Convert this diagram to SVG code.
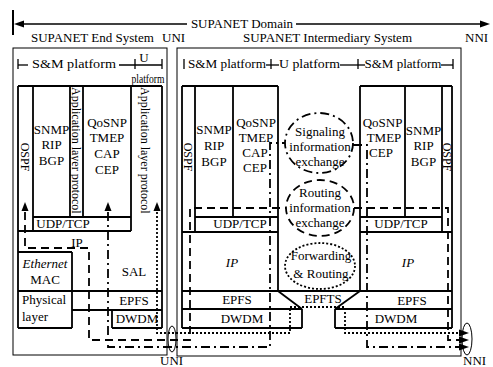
<svg xmlns="http://www.w3.org/2000/svg" width="493" height="367" viewBox="0 0 493 367">
<style>
.t{font-family:"Liberation Serif","Times New Roman",serif;font-size:13px;fill:#000}
.m{text-anchor:middle}
.i{font-style:italic}
.o{fill:none;stroke:#000;stroke-width:1}
.b{fill:none;stroke:#000;stroke-width:1.8}
.f{fill:none;stroke:#000;stroke-width:1.8}
.da{stroke-dasharray:8,5}
.dd{stroke-dasharray:9,4,2,4}
.dt{stroke-dasharray:2,2}
.ah{fill:#000}
</style>
<defs>
<clipPath id="c1"><rect x="70" y="86" width="13" height="131"/></clipPath>
<clipPath id="c2"><rect x="131" y="86" width="31" height="131"/></clipPath>
</defs>
<rect width="493" height="367" fill="#fff"/>

<g id="domain">
<line x1="13" y1="10" x2="13" y2="35" stroke="#000" stroke-width="2"/>
<line x1="20" y1="24" x2="187" y2="24" stroke="#000" stroke-width="1.3"/>
<polygon class="ah" points="14,24 24,20.5 24,27.5"/>
<text class="t m" x="242" y="28">SUPANET Domain</text>
<line x1="296" y1="24" x2="482" y2="24" stroke="#000" stroke-width="1.3"/>
<polygon class="ah" points="490,24 480,20.5 480,27.5"/>
</g>

<g id="labels">
<text class="t" x="31" y="42">SUPANET End System</text>
<text class="t" x="162" y="42">UNI</text>
<text class="t" x="243" y="42">SUPANET Intermediary  System</text>
<text class="t" x="465" y="42">NNI</text>
</g>

<g id="end-system">
<rect class="o" x="13" y="48" width="154" height="307"/>
<g stroke="#000" stroke-width="1.3">
<line x1="18" y1="59" x2="18" y2="69"/>
<line x1="18" y1="65" x2="28" y2="65"/>
<line x1="119" y1="65" x2="162" y2="65"/>
<line x1="135" y1="59" x2="135" y2="69"/>
<line x1="162" y1="59" x2="162" y2="69"/>
</g>
<text class="t m" x="74" y="68" textLength="84" lengthAdjust="spacingAndGlyphs">S&amp;M platform</text>
<text class="t m" x="144" y="62">U</text>
<text class="t m" x="148" y="83" textLength="33" lengthAdjust="spacingAndGlyphs" style="font-size:12px">platform</text>
<path class="b" d="M18,86 H162 M18,86 V328 M33,86 V231 M70,86 V217 M83,86 V217 M131,86 V231 M162,86 V328 M33,217 H131 M18,231 H131 M18,252 H72 M72,252 V328 M18,291 H162 M72,310 H162 M112,310 V328 M18,328 H72 M112,328 H162"/>
<text class="t m" transform="translate(25.5,157) rotate(90)" dy="0.35em" style="font-size:12px">OSPF</text>
<text class="t m" x="51.5" y="134">SNMP</text>
<text class="t m" x="51.5" y="149">RIP</text>
<text class="t m" x="51.5" y="165">BGP</text>
<g clip-path="url(#c1)"><text class="t" transform="translate(76.5,87) rotate(90)" dy="0.35em" style="font-size:12px">Application layer protocol</text></g>
<text class="t m" x="107" y="127">QoSNP</text>
<text class="t m" x="107" y="142">TMEP</text>
<text class="t m" x="107" y="158">CAP</text>
<text class="t m" x="107" y="174">CEP</text>
<g clip-path="url(#c2)"><text class="t" transform="translate(145,87) rotate(90)" dy="0.35em" style="font-size:12px">Application layer protocol</text></g>
<text class="t m" x="63" y="228">UDP/TCP</text>
<text class="t m" x="77" y="247">IP</text>
<text class="t m i" x="45" y="268">Ethernet</text>
<text class="t m" x="45" y="284">MAC</text>
<text class="t" x="22" y="304">Physical</text>
<text class="t" x="22" y="321">layer</text>
<text class="t m" x="134" y="276">SAL</text>
<text class="t m" x="134" y="305">EPFS</text>
<text class="t m" x="137" y="323">DWDM</text>
</g>

<g id="intermediary-system">
<rect class="o" x="177" y="48" width="284" height="308"/>
<g stroke="#000" stroke-width="1.3">
<line x1="184" y1="59" x2="184" y2="69"/>
<line x1="266" y1="65" x2="279" y2="65"/>
<line x1="271" y1="59" x2="271" y2="69"/>
<line x1="340" y1="65" x2="365" y2="65"/>
<line x1="358" y1="59" x2="358" y2="69"/>
<line x1="441" y1="65" x2="453" y2="65"/>
<line x1="453" y1="59" x2="453" y2="69"/>
</g>
<text class="t m" x="227" y="68" textLength="78" lengthAdjust="spacingAndGlyphs">S&amp;M platform</text>
<text class="t m" x="309.5" y="68" textLength="61" lengthAdjust="spacingAndGlyphs">U platform</text>
<text class="t m" x="403" y="68">S&amp;M platform</text>
<path class="b" d="M182,86 H278 M182,86 V328 M195,86 V232 M233,86 V217 M278,86 V291 M195,217 H278 M182,232 H278 M182,291 H452 M278,291 L302,309 M360,291 L335,309 M182,309 H302 M302,309 V328 M182,328 H302 M360,86 H452 M360,86 V291 M405,86 V217 M442,86 V232 M452,86 V328 M360,217 H442 M360,232 H452 M335,309 H452 M335,309 V328 M335,328 H452"/>
<text class="t m" transform="translate(188.5,157) rotate(90)" dy="0.35em" style="font-size:12px">OSPF</text>
<text class="t m" x="214" y="134">SNMP</text>
<text class="t m" x="214" y="150">RIP</text>
<text class="t m" x="214" y="166">BGP</text>
<text class="t m" x="256" y="127">QoSNP</text>
<text class="t m" x="256" y="142">TMEP</text>
<text class="t m" x="255" y="157">CAP</text>
<text class="t m" x="255" y="172">CEP</text>
<text class="t m" x="240" y="228">UDP/TCP</text>
<text class="t m i" x="232" y="267">IP</text>
<text class="t m" x="237" y="304">EPFS</text>
<text class="t m" x="242" y="323">DWDM</text>
<text class="t m" x="323" y="303">EPFTS</text>
<text class="t m" x="382.5" y="127">QoSNP</text>
<text class="t m" x="384" y="142">TMEP</text>
<text class="t m" x="381" y="157">CEP</text>
<text class="t m" x="423.5" y="135">SNMP</text>
<text class="t m" x="423.5" y="150">RIP</text>
<text class="t m" x="423.5" y="166">BGP</text>
<text class="t m" transform="translate(447,157) rotate(90)" dy="0.35em" style="font-size:12px">OSPF</text>
<text class="t m" x="401" y="228">UDP/TCP</text>
<text class="t m i" x="408" y="267">IP</text>
<text class="t m" x="412" y="305">EPFS</text>
<text class="t m" x="396" y="323">DWDM</text>
</g>

<g id="signaling-exchange">
<ellipse class="f dd" cx="319" cy="143" rx="34" ry="30"/>
<text class="t m" x="320" y="136">Signaling</text>
<text class="t m" x="320" y="151">information</text>
<text class="t m" x="320" y="166">exchange</text>
</g>
<g id="routing-exchange">
<ellipse class="f da" cx="320" cy="208" rx="34" ry="28"/>
<text class="t m" x="320" y="197">Routing</text>
<text class="t m" x="320" y="212">information</text>
<text class="t m" x="320" y="227">exchange</text>
</g>
<g id="forwarding-routing">
<ellipse class="f dt" cx="320" cy="266" rx="35" ry="23"/>
<text class="t m" x="321" y="260">Forwarding</text>
<text class="t m" x="321" y="278">&amp; Routing</text>
</g>

<g id="interfaces">
<ellipse class="o" cx="172" cy="339" rx="4" ry="13"/>
<text class="t" x="160" y="365">UNI</text>
<ellipse class="o" cx="467" cy="339" rx="5" ry="16"/>
<text class="t" x="463" y="365">NNI</text>
</g>

<g id="connectors">
<path class="f da" d="M25,212 V248 H89 V340 H190 V208 H286"/>
<path class="f dd" d="M108,212 V347 H270 V143 H285"/>
<path class="f dt" d="M157,212 V333 H290 V307 H345 V333 H460"/>
<path class="f da" d="M354,208 H448 V340 H460"/>
<path class="f dd" d="M353,145 H367 V347 H460"/>
<polygon class="ah" points="25,202 21.5,211 28.5,211"/>
<polygon class="ah" points="108,202 104.5,211 111.5,211"/>
<polygon class="ah" points="157,202 153.5,211 160.5,211"/>
<polygon class="ah" points="469,333 459,329.5 459,336.5"/>
<polygon class="ah" points="469,340 459,336.5 459,343.5"/>
<polygon class="ah" points="469,347 459,343.5 459,350.5"/>
</g>
</svg>
